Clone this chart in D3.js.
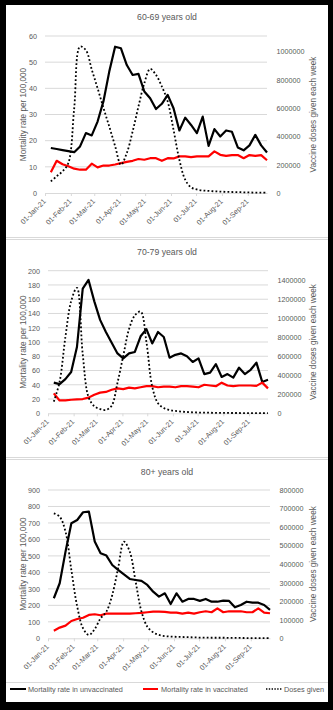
<!DOCTYPE html>
<html><head><meta charset="utf-8">
<script src="https://cdn.jsdelivr.net/npm/d3@7"></script>
<style>
html,body{margin:0;padding:0;background:#fff;}
svg{display:block;}
text{font-family:'Liberation Sans',Arial,sans-serif;fill:#595959;}
</style>
</head><body><svg id="c" width="333" height="710"></svg>
<script>
// ---- data ----
const weeks = ["2021-01-08","2021-01-15","2021-01-22","2021-01-29","2021-02-05","2021-02-12","2021-02-19","2021-02-26",
"2021-03-05","2021-03-12","2021-03-19","2021-03-26","2021-04-02","2021-04-09","2021-04-16","2021-04-23","2021-04-30",
"2021-05-07","2021-05-14","2021-05-21","2021-05-28","2021-06-04","2021-06-11","2021-06-18","2021-06-25",
"2021-07-02","2021-07-09","2021-07-16","2021-07-23","2021-07-30","2021-08-06","2021-08-13","2021-08-20","2021-08-27",
"2021-09-03","2021-09-10","2021-09-17","2021-09-24"];
const monthTicks = ["2021-01-01","2021-02-01","2021-03-01","2021-04-01","2021-05-01","2021-06-01","2021-07-01","2021-08-01","2021-09-01"];

const unvax60 = [17.2,16.8,16.4,16.0,15.6,17.8,22.9,22.0,27.3,35.0,46.4,55.9,55.3,48.9,45.1,45.5,38.8,36.2,32.1,34.1,37.5,32.4,23.9,28.8,26.0,22.9,29.2,18.0,24.4,21.6,23.9,23.4,17.4,16.3,18.2,22.2,18.2,15.5];
const vax60 = [7.9,12.3,11.0,10.2,9.3,8.9,8.9,11.2,9.8,10.5,10.5,10.9,11.4,11.9,12.3,13.0,12.7,13.3,13.3,12.3,13.3,13.2,14.0,14.0,13.7,14.0,14.0,14.0,15.9,14.6,14.2,14.5,14.5,13.3,14.5,14.2,14.5,12.5];
const doses60 = [82000,118000,153000,212000,600000,1035000,1010000,873000,741000,602000,470000,332000,200000,282000,435000,612000,776000,877000,835000,753000,647000,447000,235000,94000,40000,25000,18000,15000,12000,10000,8000,7000,6000,5000,4000,3000,3000,2000];

const unvax70 = [43,41,48,58,93,175,187,157,131,114,99,84,77,84,86,108,118,98,114,107,78,82,84,80,72,77,55,57,69,51,55,50,64,55,61,71,44,47];
const vax70 = [28,18,18,19,19.5,20,22,26,29,30,33,35,34,36,35,36.5,38,38,36.5,37.5,37.5,36.5,38,38,37.5,36.5,40,39,38,43,39,38,39,39,39,38.5,43,35];
const doses70 = [123000,330000,800000,1180000,1320000,620000,170000,75000,45000,35000,80000,320000,605000,886000,1030000,1070000,750000,280000,105000,55000,35000,25000,18000,14000,10000,8000,7000,6000,5000,4000,4000,3000,3000,2000,2000,2000,1000,1000];

const unvax80 = [243,334,526,698,718,765,769,587,516,502,445,415,388,360,354,348,324,283,253,273,208,273,222,239,239,227,239,222,222,229,227,188,202,222,216,216,202,172];
const vax80 = [46,65,77,105,117,125,142,146,140,150,150,150,150,150,152,154,158,162,162,160,156,156,150,156,150,158,164,158,182,158,164,164,164,158,158,182,156,152];
const doses80 = [674000,656000,575000,368000,171000,54000,18000,50000,108000,144000,234000,378000,521000,467000,306000,144000,63000,32000,18000,12000,9000,8000,7000,6000,5000,4000,4000,3000,3000,3000,2000,2000,2000,1000,1000,1000,1000,1000];

const leftTicks60 = [0,10,20,30,40,50,60];
const rightTicks60 = [0,200000,400000,600000,800000,1000000];
const leftTicks70 = [0,20,40,60,80,100,120,140,160,180,200];
const rightTicks70 = [0,200000,400000,600000,800000,1000000,1200000,1400000];
const leftTicks80 = [0,100,200,300,400,500,600,700,800,900];
const rightTicks80 = [0,100000,200000,300000,400000,500000,600000,700000,800000];

const titles = ["60-69 years old","70-79 years old","80+ years old"];
const leftTitle = "Mortality rate per 100,000";
const rightTitle = "Vaccine doses given each week";
const legendLabels = ["Mortality rate in unvaccinated","Mortality rate in vaccinated","Doses given"];

// ---- drawing ----
const parse = d3.timeParse("%Y-%m-%d");
const weekDates = weeks.map(parse);
const monthDates = monthTicks.map(parse);
const svg = d3.select("#c");

// outer frame
svg.append("rect").attr("x",0).attr("y",0).attr("width",333).attr("height",710).attr("fill","#000");
svg.append("rect").attr("x",6).attr("y",5).attr("width",322).attr("height",697).attr("fill","#fff");
[237.5,239.5,457.5,459.5,682.5].forEach(y=>{
  svg.append("line").attr("x1",6).attr("x2",328).attr("y1",y).attr("y2",y).attr("stroke","#d9d9d9").attr("stroke-width",1);
});

const panels = [
  {title:titles[0], titleY:17, top:36, bottom:193, left:45, right:267, leftMax:60, rightMax:1110000,
   lt:leftTicks60, rt:rightTicks60, unvax:unvax60, vax:vax60, doses:doses60},
  {title:titles[1], titleY:252, top:270.7, bottom:413.3, left:48, right:268, leftMax:200, rightMax:1500000,
   lt:leftTicks70, rt:rightTicks70, unvax:unvax70, vax:vax70, doses:doses70},
  {title:titles[2], titleY:472, top:490, bottom:638.3, left:48, right:270, leftMax:900, rightMax:800000,
   lt:leftTicks80, rt:rightTicks80, unvax:unvax80, vax:vax80, doses:doses80}
];

panels.forEach(p=>{
  const g = svg.append("g");
  const x = d3.scaleTime().domain([monthDates[0], weekDates[weekDates.length-1]]).range([p.left,p.right]);
  const yL = d3.scaleLinear().domain([0,p.leftMax]).range([p.bottom,p.top]);
  const yR = d3.scaleLinear().domain([0,p.rightMax]).range([p.bottom,p.top]);

  g.append("text").attr("x",167).attr("y",p.titleY).attr("dy","0.35em").attr("text-anchor","middle")
    .style("font-size","8.7px").text(p.title);

  // gridlines
  g.selectAll(".grid").data(p.lt.filter(t=>t>0)).join("line")
    .attr("x1",p.left).attr("x2",p.right).attr("y1",d=>yL(d)).attr("y2",d=>yL(d))
    .attr("stroke","#d9d9d9").attr("stroke-width",1);

  // x axis
  const xa = g.append("g").attr("transform",`translate(0,${p.bottom})`)
    .call(d3.axisBottom(x).tickValues(monthDates).tickFormat(d3.timeFormat("%d-%b-%y")).tickSize(3).tickSizeOuter(0));
  xa.select(".domain").attr("stroke","#d9d9d9");
  xa.selectAll(".tick line").attr("stroke","#d9d9d9");
  xa.selectAll(".tick text").attr("x",0).attr("y",0).attr("dy","0.35em").attr("text-anchor","end")
    .attr("transform","translate(-1,7) rotate(-45)").style("font-size","7.2px").attr("fill","#595959");

  // left axis
  const la = g.append("g").attr("transform",`translate(${p.left},0)`)
    .call(d3.axisLeft(yL).tickValues(p.lt).tickSize(0).tickPadding(8));
  la.select(".domain").remove();
  la.selectAll("text").style("font-size","7.2px").attr("fill","#595959");

  // right axis
  const ra = g.append("g").attr("transform",`translate(${p.right},0)`)
    .call(d3.axisRight(yR).tickValues(p.rt).tickSize(0).tickPadding(9.5).tickFormat(d3.format("d")));
  ra.select(".domain").remove();
  ra.selectAll("text").style("font-size","7.2px").attr("fill","#595959");

  const cy = (p.top+p.bottom)/2;
  g.append("text").attr("transform",`translate(23,${cy}) rotate(-90)`).attr("dy","0.35em")
    .attr("text-anchor","middle").style("font-size","8.2px").text(leftTitle);
  g.append("text").attr("transform",`translate(313,${cy}) rotate(-90)`).attr("dy","0.35em")
    .attr("text-anchor","middle").style("font-size","8.2px").text(rightTitle);

  const lineL = d3.line().x((d,i)=>x(weekDates[i])).y(d=>yL(d));
  const lineR = d3.line().x((d,i)=>x(weekDates[i])).y(d=>yR(d)).curve(d3.curveCatmullRom.alpha(0.5));

  g.append("path").attr("d",lineL(p.unvax)).attr("fill","none").attr("stroke","#000").attr("stroke-width",2.2).attr("stroke-linejoin","round");
  g.append("path").attr("d",lineL(p.vax)).attr("fill","none").attr("stroke","#ff0000").attr("stroke-width",2.2).attr("stroke-linejoin","round");
  g.append("path").attr("d",lineR(p.doses)).attr("fill","none").attr("stroke","#000").attr("stroke-width",1.8).attr("stroke-dasharray","1.8,2.2");
});

// legend
const lg = svg.append("g");
const legY = 689;
const items = [
  {x1:10,x2:26,tx:28,color:"#000",dash:null,w:2},
  {x1:143,x2:158,tx:161,color:"#ff0000",dash:null,w:2},
  {x1:266,x2:282,tx:284,color:"#000",dash:"1.4,1.4",w:1.4}
];
items.forEach((it,i)=>{
  const l = lg.append("line").attr("x1",it.x1).attr("x2",it.x2).attr("y1",legY).attr("y2",legY)
    .attr("stroke",it.color).attr("stroke-width",it.w);
  if(it.dash) l.attr("stroke-dasharray",it.dash);
  lg.append("text").attr("x",it.tx).attr("y",legY).attr("dy","0.35em").style("font-size","7.3px").text(legendLabels[i]);
});
</script></body></html>
